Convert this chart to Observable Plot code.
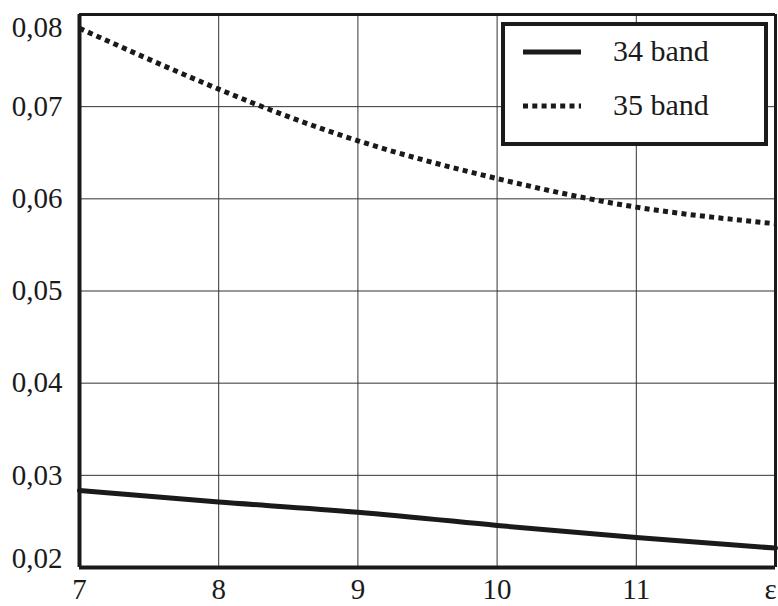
<!DOCTYPE html>
<html>
<head>
<meta charset="utf-8">
<script src="https://cdn.jsdelivr.net/npm/d3@7"></script>
<script src="https://cdn.jsdelivr.net/npm/@observablehq/plot@0.6"></script>
<style>
  html, body { margin: 0; padding: 0; background: #fff; }
  #wrap { position: relative; width: 778px; height: 606px; font-family: "Liberation Serif", "Times New Roman", "DejaVu Serif", serif; }
  #wrap svg text { font-family: "Liberation Serif", "Times New Roman", "DejaVu Serif", serif; }
  #legend { position: absolute; left: 501px; top: 22px; width: 267px; height: 124px; box-sizing: border-box;
            border: 4px solid #1a1a1a; background: #fff; }
  #legend .row { position: absolute; left: 0; height: 40px; width: 100%; }
  #legend svg { position: absolute; left: 17px; top: 0; }
  #legend span { position: absolute; left: 108px; top: -2px; font-size: 30px; color: #1a1a1a; line-height: 34px;
                 font-family: "Liberation Serif", "Times New Roman", "DejaVu Serif", serif; }
</style>
</head>
<body>
<div id="wrap"></div>
<script>
const eps = [7, 8, 9, 10, 11, 12];
const band34 = [0.02835, 0.0271, 0.0260, 0.02456, 0.02325, 0.0221];
const band35 = [0.0785, 0.0719, 0.0663, 0.0622, 0.0591, 0.0573];
const seriesNames = ["34 band", "35 band"];
const xTicks = [7, 8, 9, 10, 11, 12];
const xTickLabels = ["7", "8", "9", "10", "11", "ε"];
const yTicks = [0.02, 0.03, 0.04, 0.05, 0.06, 0.07, 0.08];

const rows34 = eps.map((x, i) => ({x, y: band34[i]}));
const rows35 = eps.map((x, i) => ({x, y: band35[i]}));
const yFmt = d => d.toFixed(2).replace(".", ",");
const xFmt = d => xTickLabels[xTicks.indexOf(d)];
const ink = "#1a1a1a";
const serif = "'Liberation Serif', 'Times New Roman', 'DejaVu Serif', serif";

const chart = Plot.plot({
  width: 778,
  height: 606,
  marginLeft: 79,
  marginRight: 3,
  marginTop: 14,
  marginBottom: 39,
  style: {fontFamily: serif, fontSize: "29px", color: ink, background: "#fff"},
  x: {domain: [7, 12]},
  y: {domain: [0.02, 0.08]},
  marks: [
    Plot.gridX(xTicks.slice(1, -1), {stroke: "#333", strokeOpacity: 1, strokeWidth: 1}),
    Plot.gridY(yTicks.slice(1, -1), {stroke: "#333", strokeOpacity: 1, strokeWidth: 1}),
    Plot.line(rows34, {x: "x", y: "y", stroke: ink, strokeWidth: 5, curve: "natural"}),
    Plot.line(rows35, {x: "x", y: "y", stroke: ink, strokeWidth: 5, strokeDasharray: "5,4.3", strokeLinecap: "butt", curve: "natural"}),
    Plot.ruleX([7], {stroke: ink, strokeWidth: 4}),
    Plot.ruleX([12], {stroke: ink, strokeWidth: 3}),
    Plot.ruleY([0.02], {stroke: ink, strokeWidth: 4}),
    Plot.ruleY([0.08], {stroke: ink, strokeWidth: 3}),
    Plot.axisY(yTicks.slice(1, -1), {tickSize: 0, tickPadding: 17, tickFormat: yFmt, label: null}),
    Plot.axisY([0.08], {tickSize: 0, tickPadding: 17, tickFormat: yFmt, label: null, dy: 13}),
    Plot.axisY([0.02], {tickSize: 0, tickPadding: 17, tickFormat: yFmt, label: null, dy: -9}),
    Plot.axisX(xTicks.slice(0, -1), {tickSize: 0, tickPadding: 11, tickFormat: xFmt, label: null}),
    Plot.axisX([12], {tickSize: 0, tickPadding: 11, tickFormat: xFmt, label: null, dx: -5})
  ]
});

const wrap = document.getElementById("wrap");
wrap.appendChild(chart);

const legend = document.createElement("div");
legend.id = "legend";
const dashes = [null, "5,4.3"];
seriesNames.forEach((name, i) => {
  const row = document.createElement("div");
  row.className = "row";
  row.style.top = (10 + i * 54) + "px";
  row.innerHTML = `<svg width="62" height="40"><line x1="1" x2="59" y1="16" y2="16" stroke="${ink}" stroke-width="5" ${dashes[i] ? `stroke-dasharray="${dashes[i]}"` : ""}/></svg><span>${name}</span>`;
  legend.appendChild(row);
});
wrap.appendChild(legend);
</script>
</body>
</html>
